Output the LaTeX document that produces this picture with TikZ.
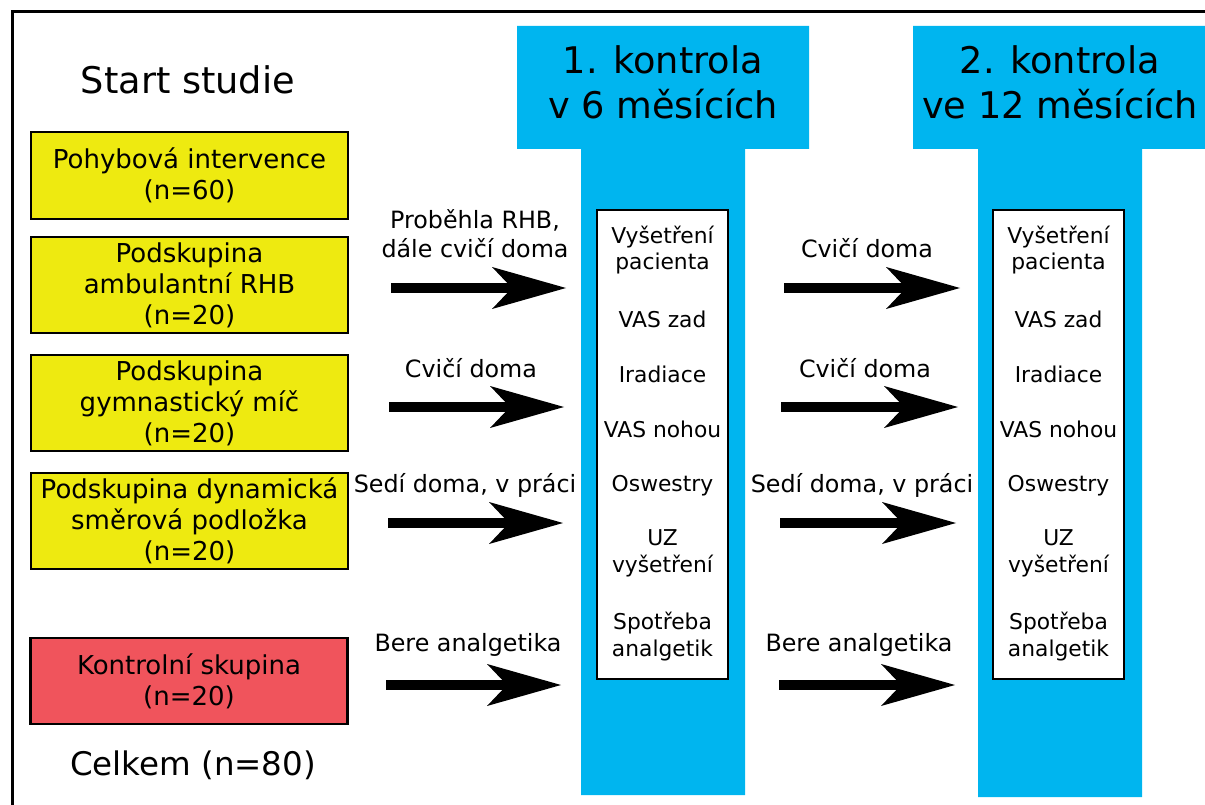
\documentclass[tikz,border=0pt]{standalone}
\usepackage{fontspec}
\setmainfont{DejaVu Sans}
\usetikzlibrary{arrows.meta}
\definecolor{boxyellow}{RGB}{238,234,16}
\definecolor{boxred}{RGB}{240,84,92}
\definecolor{colblue}{RGB}{0,181,239}
\tikzset{
  groupbox/.style={draw=black, line width=2.8pt, minimum width=317pt, align=center, inner sep=0pt,
    font=\fontsize{26}{31}\selectfont},
  ybox/.style={groupbox, fill=boxyellow, minimum height=96pt},
  rbox/.style={groupbox, fill=boxred, minimum height=86pt},
  bigtext/.style={font=\fontsize{36.7}{45}\selectfont, align=center, inner sep=0pt},
  lbl/.style={font=\fontsize{23.8}{29}\selectfont, align=center, inner sep=0pt},
  item/.style={font=\fontsize{21.8}{26.5}\selectfont, align=center, inner sep=0pt},
  whitebox/.style={draw=black, line width=1.8pt, fill=white, minimum width=131pt, minimum height=469pt, inner sep=0pt},
  bigarrow/.style={line width=10.5pt, -{Stealth[length=74pt,width=42pt,inset=20pt,line width=0pt]}},
}
\begin{document}
\begin{tikzpicture}[x=1pt,y=-1pt]
\useasboundingbox (0,0) rectangle (1205,805);
% frame (cropped at right and bottom)
\begin{scope}
\clip (0,0) rectangle (1205,805);
\draw[line width=3pt] (12,830) -- (12,12) -- (1230,12);
\end{scope}
% blue columns
\fill[colblue] (517,26) -- (809,26) -- (809,149) -- (745,149) -- (745,795) -- (581,795) -- (581,149) -- (517,149) -- cycle;
\fill[colblue] (913,26) -- (1205,26) -- (1205,149) -- (1142,149) -- (1142,797) -- (978,797) -- (978,149) -- (913,149) -- cycle;
\node[bigtext] (t1) at (663,82.5) {1. kontrola\\v 6 měsících};
\node[bigtext] (t2) at (1060,82.5) {2. kontrola\\ve 12 měsících};
% left column
\node[bigtext] (start) at (188,80) {Start studie};
\node[ybox, minimum height=87pt] (g0) at (189.5,175.5) {Pohybová intervence\\(n=60)};
\node[ybox] (g1) at (189.5,285) {Podskupina\\ambulantní RHB\\(n=20)};
\node[ybox] (g2) at (189.5,403) {Podskupina\\gymnastický míč\\(n=20)};
\node[ybox] (g3) at (189.5,521) {Podskupina dynamická\\směrová podložka\\(n=20)};
\node[rbox] (g4) at (189,681) {Kontrolní skupina\\(n=20)};
\node[bigtext, font=\fontsize{32.5}{39}\selectfont] (total) at (193,765) {Celkem (n=80)};
% white boxes with items
\node[whitebox] (w1) at (662.5,444.5) {};
\node[whitebox] (w2) at (1058.5,444.5) {};
\foreach \w/\c in {a/662.5,b/1058.5}{
  \node[item] (\w i1) at (\c,250) {Vyšetření\\pacienta};
  \node[item] (\w i2) at (\c,319) {VAS zad};
  \node[item] (\w i3) at (\c,374) {Iradiace};
  \node[item] (\w i4) at (\c,429) {VAS nohou};
  \node[item] (\w i5) at (\c,486) {Oswestry};
  \node[item] (\w i6) at (\c,553.5) {UZ\\vyšetření};
  \node[item] (\w i7) at (\c,636.5) {Spotřeba\\analgetik};
}
% arrow end points
\coordinate (l1s) at (391,288); \coordinate (l1e) at (566,288);
\coordinate (r1s) at (784,288); \coordinate (r1e) at (960,288);
\coordinate (l2s) at (389,407); \coordinate (l2e) at (564,407);
\coordinate (r2s) at (781,407); \coordinate (r2e) at (958,407);
\coordinate (l3s) at (388,523); \coordinate (l3e) at (563,523);
\coordinate (r3s) at (780,523); \coordinate (r3e) at (956,523);
\coordinate (l4s) at (386,685); \coordinate (l4e) at (561,685);
\coordinate (r4s) at (779,685); \coordinate (r4e) at (955,685);
\foreach \a in {l1,r1,l2,r2,l3,r3,l4,r4}{
  \draw[bigarrow] (\a s) -- (\a e);
}
% arrow labels
\node[lbl] (ll1) at (475,233.5) {Proběhla RHB,\\dále cvičí doma};
\node[lbl] (rl1) at (867,248) {Cvičí doma};
\node[lbl] (ll2) at (471,368) {Cvičí doma};
\node[lbl] (rl2) at (865,368) {Cvičí doma};
\node[lbl] (ll3) at (465,485) {Sedí doma, v práci};
\node[lbl] (rl3) at (862,485) {Sedí doma, v práci};
\node[lbl] (ll4) at (468,645) {Bere analgetika};
\node[lbl] (rl4) at (859,645) {Bere analgetika};
\end{tikzpicture}
\end{document}
